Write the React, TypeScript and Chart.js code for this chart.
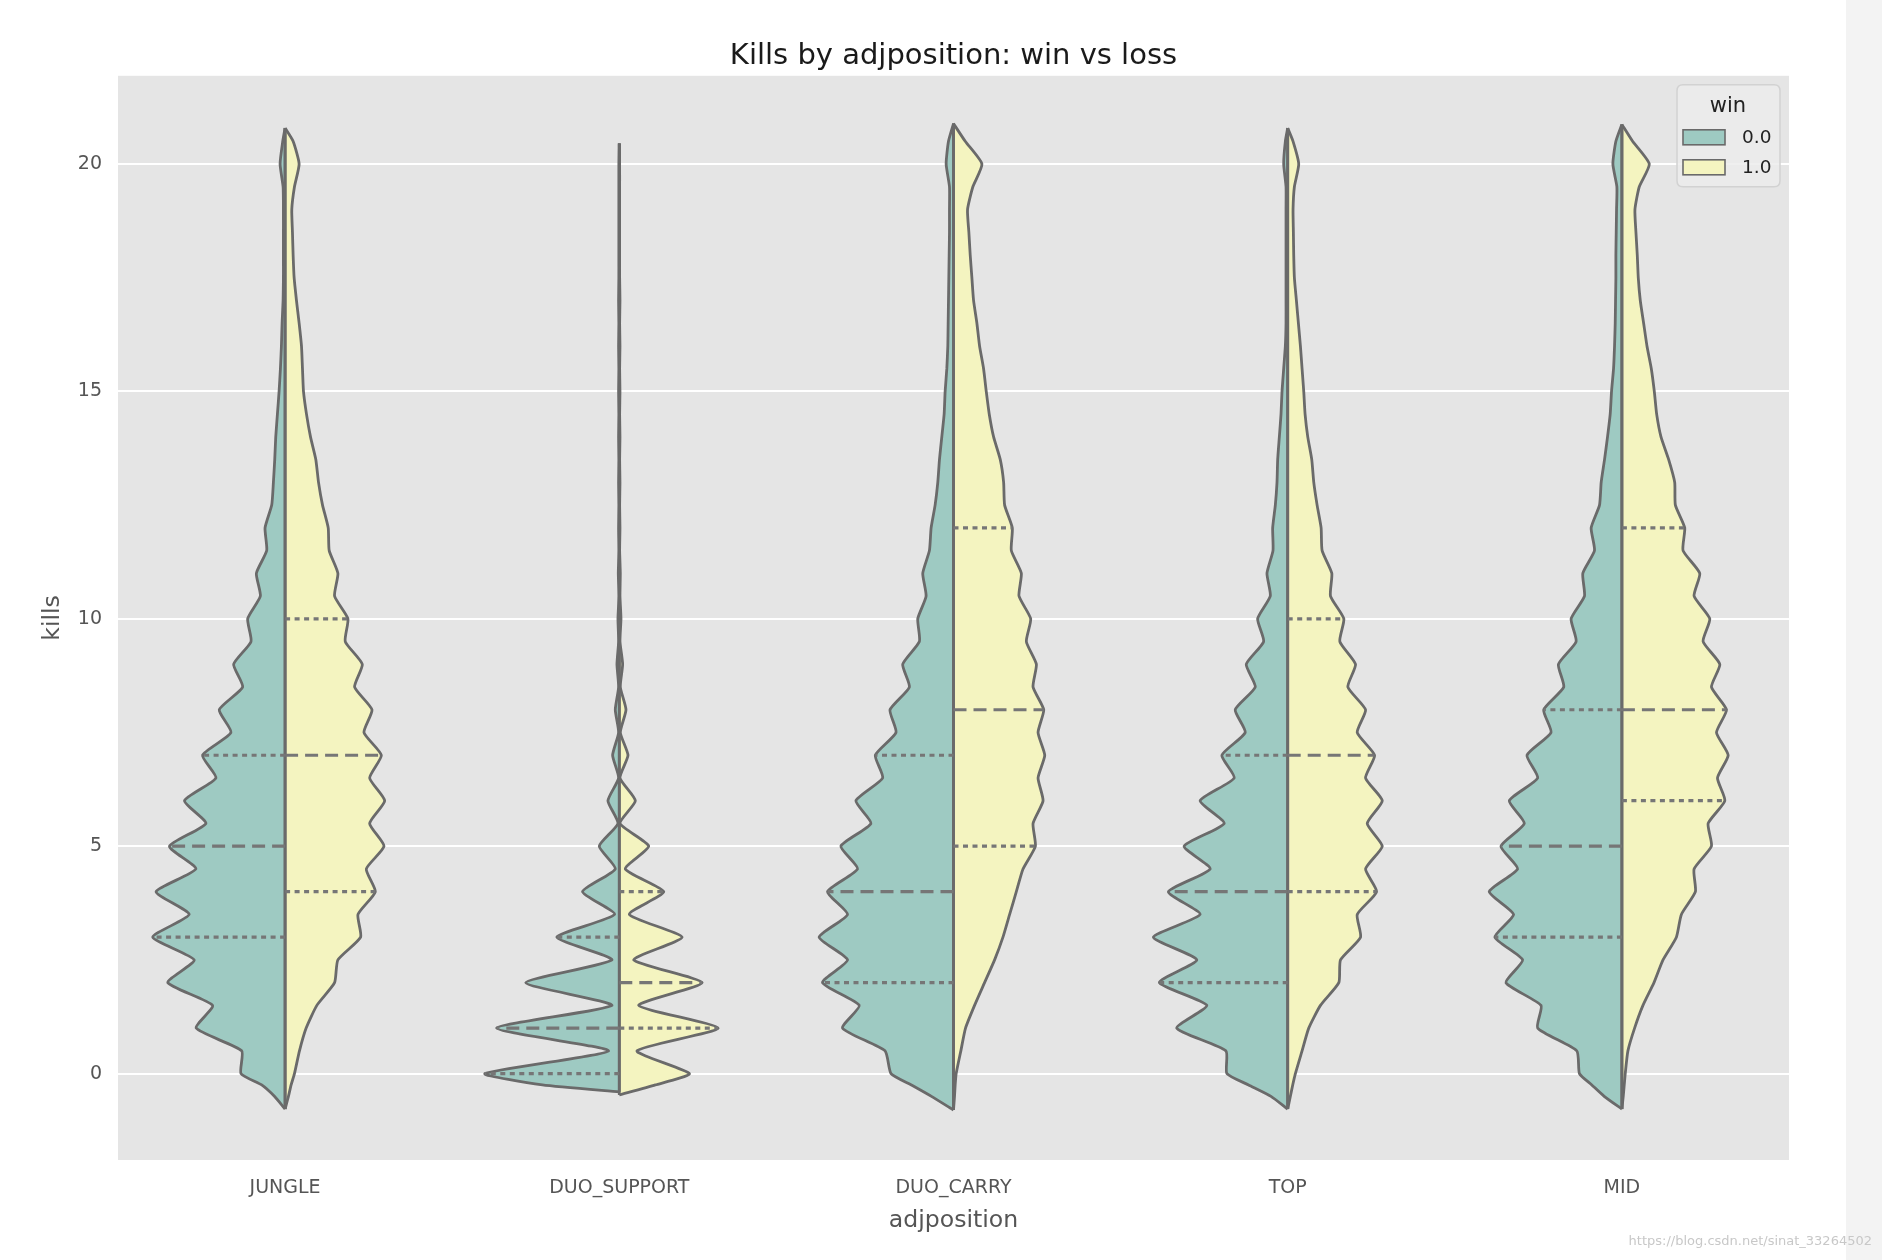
import React, { useEffect, useRef } from "react";
import { Chart, registerables } from "chart.js";

Chart.register(...registerables);

// ---------------- data ----------------
const CATEGORIES = ["JUNGLE", "DUO_SUPPORT", "DUO_CARRY", "TOP", "MID"];
const WIN_LABELS = ["0.0", "1.0"];
const Y_TICKS = [0, 5, 10, 15, 20];

// kill values at which the (relative) KDE half-widths were read
const KILLS_GRID = [
  -0.5, -0.25, 0, 0.5, 1, 1.5, 2, 2.5, 3, 3.5, 4, 4.5, 5, 5.5, 6, 6.5, 7, 7.5, 8, 8.5,
  9, 9.5, 10, 10.5, 11, 11.5, 12, 12.5, 13, 13.5, 14, 14.5, 15, 15.5, 16, 16.5, 17, 17.5,
  18, 18.5, 19, 19.5, 20, 20.5,
];

// relative density (thousandths of a category width), win = 0.0 (loss)
const JUNGLE_LOSS = [32, 70, 132, 130, 266, 217, 351, 272, 396, 287, 386, 267, 346, 237, 301, 207, 247, 162, 197, 127, 154, 102, 112, 74, 86, 55, 60, 40, 35, 31, 28, 23, 18, 14, 11, 9, 6, 5, 5, 5, 5, 6, 15, 7];
const SUPPORT_LOSS = [0, 230, 402, 32, 367, 22, 280, 22, 187, 14, 110, 12, 60, 4, 34, 2, 20, 2, 12, 2, 7, 2, 4, 1, 3, 1, 2, 1, 2, 1, 2, 1, 2, 1, 2, 1, 2, 1, 1, 1, 1, 1, 1, 0];
const CARRY_LOSS = [66, 126, 187, 205, 332, 282, 392, 317, 402, 317, 377, 287, 337, 247, 292, 212, 234, 172, 190, 132, 152, 102, 107, 82, 92, 72, 67, 55, 47, 42, 35, 28, 25, 20, 17, 16, 15, 14, 13, 12, 12, 12, 22, 15];
const TOP_LOSS = [50, 117, 182, 185, 332, 242, 384, 272, 402, 262, 357, 232, 310, 190, 262, 160, 197, 127, 157, 97, 124, 72, 90, 52, 62, 44, 45, 37, 32, 30, 25, 20, 17, 12, 7, 5, 5, 5, 5, 5, 5, 5, 12, 7];
const MID_LOSS = [53, 90, 127, 135, 252, 242, 347, 297, 380, 324, 397, 312, 362, 292, 337, 252, 284, 212, 234, 174, 190, 137, 152, 112, 117, 82, 92, 67, 62, 52, 43, 35, 31, 25, 22, 20, 19, 18, 18, 17, 16, 15, 27, 18];

// relative density, win = 1.0
const JUNGLE_WIN = [10, 18, 28, 43, 63, 95, 148, 158, 226, 218, 270, 243, 296, 253, 298, 253, 288, 236, 260, 208, 231, 180, 188, 148, 158, 132, 129, 112, 100, 92, 76, 64, 55, 52, 49, 42, 34, 27, 24, 22, 20, 28, 42, 24];
const SUPPORT_WIN = [0, 108, 210, 53, 296, 58, 248, 43, 188, 30, 133, 18, 88, 2, 48, 2, 26, 3, 20, 3, 10, 2, 5, 2, 3, 1, 2, 1, 2, 1, 2, 1, 2, 1, 2, 1, 2, 1, 1, 1, 1, 1, 1, 0];
const CARRY_WIN = [3, 5, 8, 22, 36, 63, 93, 123, 148, 168, 188, 208, 245, 238, 268, 253, 273, 253, 270, 238, 248, 218, 231, 196, 203, 173, 176, 153, 150, 140, 120, 107, 98, 90, 78, 70, 60, 55, 50, 46, 42, 58, 85, 35];
const TOP_WIN = [8, 15, 23, 43, 63, 98, 153, 158, 218, 208, 266, 233, 283, 238, 283, 233, 260, 208, 233, 180, 203, 156, 168, 128, 132, 103, 100, 88, 78, 72, 60, 52, 48, 43, 38, 32, 26, 20, 18, 17, 16, 20, 33, 16];
const MID_WIN = [4, 7, 10, 18, 38, 63, 96, 123, 163, 178, 220, 216, 268, 258, 308, 286, 318, 283, 313, 268, 293, 243, 263, 216, 233, 183, 188, 160, 158, 140, 117, 104, 97, 88, 75, 65, 55, 49, 46, 42, 39, 52, 82, 32];

// extent of each violin (kills)
const LOW_TIP_LOSS = [-0.78, -0.4, -0.8, -0.78, -0.78];
const LOW_TIP_WIN = [-0.78, -0.47, -0.8, -0.78, -0.78];
const HIGH_TIP = [20.79, 20.45, 20.89, 20.79, 20.87];

// quartiles [Q1, median, Q3]
const QUART_LOSS = [
  [3, 5, 7],
  [0, 1, 3],
  [2, 4, 7],
  [2, 4, 7],
  [3, 5, 8],
];
const QUART_WIN = [
  [4, 7, 10],
  [1, 2, 4],
  [5, 8, 12],
  [4, 7, 10],
  [6, 8, 12],
];

const LOSS_DENSITY = [JUNGLE_LOSS, SUPPORT_LOSS, CARRY_LOSS, TOP_LOSS, MID_LOSS];
const WIN_DENSITY = [JUNGLE_WIN, SUPPORT_WIN, CARRY_WIN, TOP_WIN, MID_WIN];

// ---------------- style ----------------
const WIDTH_SCALE = 0.001;
const LOSS_COLOR = "#9ecac2";
const WIN_COLOR = "#f4f4c0";
const EDGE = "#6a6a6a";
const QLINE = "#767676";
const FONT = "DejaVu Sans";

function densityAt(dens: number[], v: number): number {
  for (let i = 0; i < KILLS_GRID.length - 1; i++) {
    const a = KILLS_GRID[i];
    const b = KILLS_GRID[i + 1];
    if (v >= a && v <= b) {
      const t = (v - a) / (b - a);
      return dens[i] + t * (dens[i + 1] - dens[i]);
    }
  }
  return 0;
}

function halfPolygon(center: number, side: number, dens: number[], low: number, high: number) {
  const pts: { x: number; y: number }[] = [{ x: center, y: low }];
  KILLS_GRID.forEach((k, i) => {
    if (k > low && k < high) pts.push({ x: center + side * dens[i] * WIDTH_SCALE, y: k });
  });
  pts.push({ x: center, y: high });
  return pts;
}

function buildDatasets() {
  const ds: any[] = [];
  CATEGORIES.forEach((_, c) => {
    const halves = [
      { side: -1, dens: LOSS_DENSITY[c], low: LOW_TIP_LOSS[c], q: QUART_LOSS[c], color: LOSS_COLOR },
      { side: 1, dens: WIN_DENSITY[c], low: LOW_TIP_WIN[c], q: QUART_WIN[c], color: WIN_COLOR },
    ];
    halves.forEach((h) => {
      // filled half-violin (outline along the density edge)
      ds.push({
        data: halfPolygon(c, h.side, h.dens, h.low, HIGH_TIP[c]),
        backgroundColor: h.color,
        borderColor: EDGE,
        borderWidth: 2.8,
        fill: "shape",
        pointRadius: 0,
        pointHitRadius: 0,
        tension: 0.18,
        order: 3,
      });
      // centre line of the half
      ds.push({
        data: [
          { x: c, y: h.low },
          { x: c, y: HIGH_TIP[c] },
        ],
        borderColor: EDGE,
        borderWidth: 2.8,
        fill: false,
        pointRadius: 0,
        pointHitRadius: 0,
        order: 2,
      });
      h.q.forEach((qv, qi) => {
        const w = densityAt(h.dens, qv) * WIDTH_SCALE;
        ds.push({
          data: [
            { x: c, y: qv },
            { x: c + h.side * w, y: qv },
          ],
          borderColor: QLINE,
          borderWidth: 3.2,
          borderDash: qi === 1 ? [13, 7] : [5, 4.5],
          fill: false,
          pointRadius: 0,
          pointHitRadius: 0,
          order: 1,
        });
      });
    });
  });
  return ds;
}

const bgPlugin = {
  id: "bgPlugin",
  beforeDraw(chart: any) {
    const { ctx, chartArea: a, width, height } = chart;
    ctx.save();
    ctx.fillStyle = "#ffffff";
    ctx.fillRect(0, 0, width, height);
    ctx.fillStyle = "#f3f3f3";
    ctx.fillRect(width - 36, 0, 36, height);
    ctx.fillStyle = "#e5e5e5";
    ctx.fillRect(a.left, a.top, a.right - a.left, a.bottom - a.top);
    ctx.restore();
  },
};

const legendPlugin = {
  id: "legendPlugin",
  afterDraw(chart: any) {
    const { ctx, chartArea: a, width, height } = chart;
    ctx.save();
    const x0 = a.right - 112;
    const y0 = a.top + 9;
    const w = 103;
    const h = 102;
    const r = 6;
    ctx.beginPath();
    ctx.moveTo(x0 + r, y0);
    ctx.lineTo(x0 + w - r, y0);
    ctx.quadraticCurveTo(x0 + w, y0, x0 + w, y0 + r);
    ctx.lineTo(x0 + w, y0 + h - r);
    ctx.quadraticCurveTo(x0 + w, y0 + h, x0 + w - r, y0 + h);
    ctx.lineTo(x0 + r, y0 + h);
    ctx.quadraticCurveTo(x0, y0 + h, x0, y0 + h - r);
    ctx.lineTo(x0, y0 + r);
    ctx.quadraticCurveTo(x0, y0, x0 + r, y0);
    ctx.closePath();
    ctx.fillStyle = "rgba(236,236,236,0.85)";
    ctx.fill();
    ctx.strokeStyle = "#d2d2d2";
    ctx.lineWidth = 1.5;
    ctx.stroke();

    ctx.fillStyle = "#222222";
    ctx.textAlign = "center";
    ctx.textBaseline = "middle";
    ctx.font = `21px "${FONT}"`;
    ctx.fillText("win", x0 + 51, y0 + 22);

    const colors = [LOSS_COLOR, WIN_COLOR];
    WIN_LABELS.forEach((lab, i) => {
      const py = y0 + 45 + i * 30;
      ctx.fillStyle = colors[i];
      ctx.fillRect(x0 + 6, py, 42, 15);
      ctx.strokeStyle = EDGE;
      ctx.lineWidth = 1.6;
      ctx.strokeRect(x0 + 6, py, 42, 15);
      ctx.fillStyle = "#222222";
      ctx.textAlign = "left";
      ctx.font = `18.5px "${FONT}"`;
      ctx.fillText(lab, x0 + 65, py + 8);
    });

    ctx.fillStyle = "#c8c8c8";
    ctx.textAlign = "right";
    ctx.textBaseline = "middle";
    ctx.font = `13px "${FONT}"`;
    ctx.fillText("https://blog.csdn.net/sinat_33264502", width - 10, height - 18);
    ctx.restore();
  },
};

export default function App() {
  const ref = useRef<HTMLCanvasElement>(null);
  useEffect(() => {
    document.body.style.margin = "0";
    document.body.style.overflow = "hidden";
    const canvas = ref.current;
    if (!canvas) return;
    const chart = new Chart(canvas, {
      type: "line",
      data: { datasets: buildDatasets() },
      plugins: [bgPlugin, legendPlugin],
      options: {
        responsive: false,
        animation: false,
        events: [],
        layout: { padding: { left: 0, right: 93, top: 0, bottom: 0 } },
        plugins: {
          legend: { display: false },
          tooltip: { enabled: false },
          title: {
            display: true,
            text: "Kills by adjposition: win vs loss",
            fullSize: false,
            color: "#1a1a1a",
            font: { family: FONT, size: 29, weight: "normal" },
            padding: { top: 39.5, bottom: 1.5 },
          },
        },
        scales: {
          x: {
            type: "linear",
            min: -0.5,
            max: 4.5,
            afterBuildTicks: (scale: any) => {
              scale.ticks = CATEGORIES.map((_, i) => ({ value: i }));
            },
            afterFit: (scale: any) => {
              scale.height = 100;
            },
            ticks: {
              autoSkip: false,
              padding: 17,
              color: "#555555",
              font: { family: FONT, size: 19 },
              callback: (v: any) => CATEGORIES[Math.round(Number(v))] ?? "",
            },
            grid: { display: false, drawTicks: false },
            border: { display: false },
            title: {
              display: true,
              text: "adjposition",
              color: "#555555",
              font: { family: FONT, size: 23.6 },
              padding: { top: 0, bottom: 24.5 },
            },
          },
          y: {
            type: "linear",
            min: -1.9,
            max: 21.94,
            afterBuildTicks: (scale: any) => {
              scale.ticks = Y_TICKS.map((v) => ({ value: v }));
            },
            afterFit: (scale: any) => {
              scale.width = 118;
            },
            ticks: {
              padding: 16,
              color: "#555555",
              font: { family: FONT, size: 19 },
            },
            grid: { color: "#ffffff", lineWidth: 2, drawTicks: false },
            border: { display: false },
            title: {
              display: true,
              text: "kills",
              color: "#555555",
              font: { family: FONT, size: 23.6 },
              padding: { top: 39, bottom: 0 },
            },
          },
        },
      } as any,
    });
    return () => chart.destroy();
  }, []);
  return (
    <div style={{ width: 1882, height: 1260 }}>
      <canvas ref={ref} width={1882} height={1260} style={{ display: "block", width: 1882, height: 1260 }} />
    </div>
  );
}
